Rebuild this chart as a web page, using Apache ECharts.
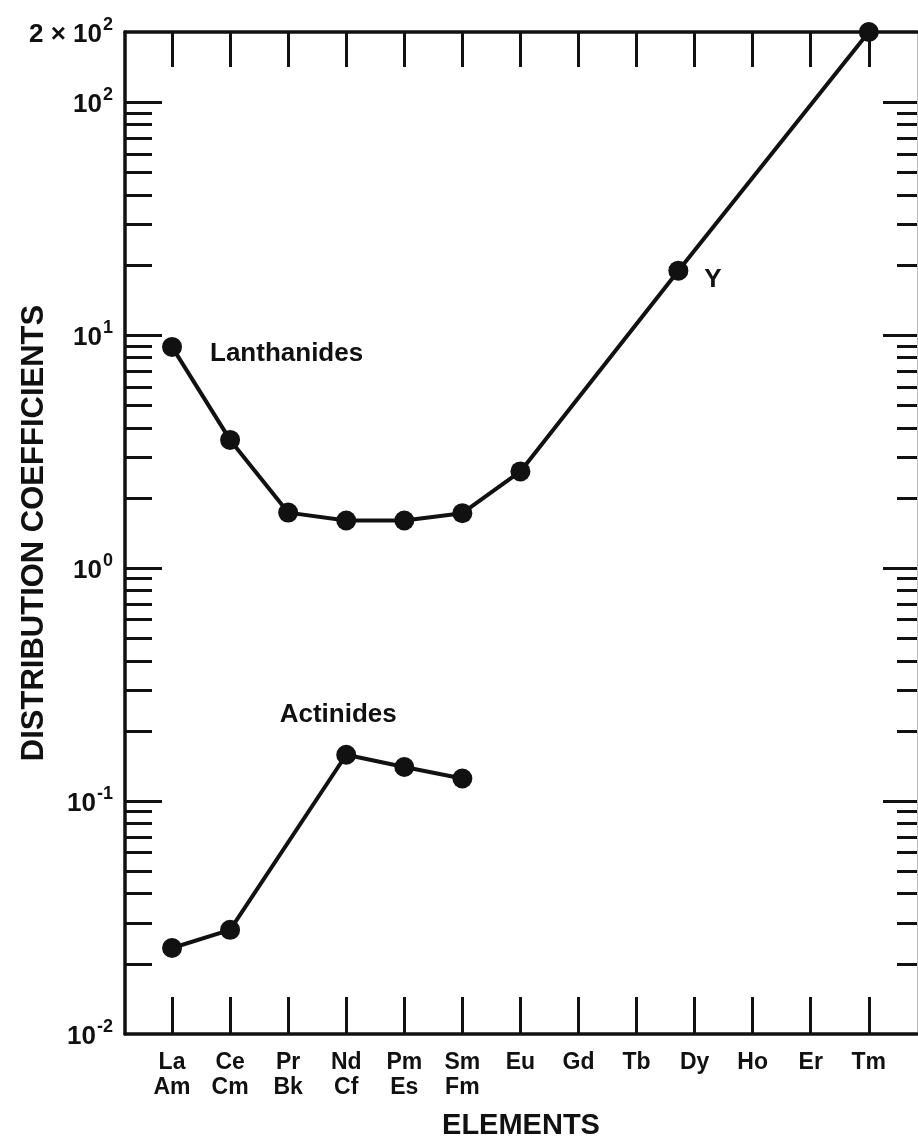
<!DOCTYPE html>
<html>
<head>
<meta charset="utf-8">
<script src="https://cdn.jsdelivr.net/npm/echarts@6/dist/echarts.min.js"></script>
<style>
html,body{margin:0;padding:0;background:#fff;}
#chart{width:918px;height:1148px;}
</style>
</head>
<body>
<div id="chart"></div>
<script>
// Categories (top row: lanthanides, bottom row: actinides)
const lanthanideNames = ['La','Ce','Pr','Nd','Pm','Sm','Eu','Gd','Tb','Dy','Ho','Er','Tm'];
const actinideNames   = ['Am','Cm','Bk','Cf','Es','Fm','','','','','','',''];

// Lanthanides series (x = category index, value = distribution coefficient)
const lanthanideX    = [0, 1, 2, 3, 4, 5, 6, 8.72, 12];
const lanthanideVals = [8.9, 3.55, 1.73, 1.6, 1.6, 1.72, 2.6, 18.9, 200];

// Actinides series
const actinideX    = [0, 1, 3, 4, 5];
const actinideVals = [0.0234, 0.028, 0.158, 0.14, 0.125];

// Y tick labels (decades) and top label
const yDecades = [-2, -1, 0, 1, 2];
const yTopValue = 200;

const FONT = "'Liberation Sans', Arial, sans-serif";
const LOGTOP = Math.log10(yTopValue);
const catIdx = lanthanideNames.map((_, i) => i);

const minorVals = [];
for (let n = -2; n <= 1; n++) {
  for (let k = 2; k <= 9; k++) minorVals.push(n + Math.log10(k));
}

const toPairs = (xs, vs) => xs.map((x, i) => [x, Math.log10(vs[i])]);

const lanData = toPairs(lanthanideX, lanthanideVals);
const actData = toPairs(actinideX, actinideVals);

// annotation labels attached to data points
lanData[0] = {value: lanData[0], label: {show: true, formatter: 'Lanthanides', position: 'right', distance: 28, offset: [0, 7]}};
lanData[7] = {value: lanData[7], label: {show: true, formatter: 'Y', position: 'right', distance: 16, offset: [0, 9]}};
actData[2] = {value: actData[2], label: {show: true, formatter: 'Actinides', position: 'top', distance: 14, offset: [-8, -3]}};

const xMin = -0.81, xMax = 12.83;
const yMin = -2, yMax = LOGTOP;

const black = '#111';

const yLabelFormatter = function (v) {
  if (Math.abs(v - LOGTOP) < 1e-6) return '{b|2 × 10}{s|2}';
  return '{b|10}{s|' + Math.round(v) + '}';
};

const option = {
  backgroundColor: '#fff',
  animation: false,
  grid: {left: 125, right: 1, top: 32, bottom: 114, containLabel: false, outerBoundsMode: 'none'},
  xAxis: [
    {
      type: 'value', position: 'bottom', min: xMin, max: xMax,
      name: 'ELEMENTS', nameLocation: 'middle', nameGap: 77, nameMoveOverlap: false,
      nameTextStyle: {fontFamily: FONT, fontWeight: 'bold', fontSize: 29, color: black},
      axisLine: {show: true, onZero: false, lineStyle: {color: black, width: 3.5}},
      axisTick: {show: true, inside: true, length: 37, customValues: catIdx, lineStyle: {color: black, width: 3}},
      axisLabel: {
        show: true, customValues: catIdx, margin: 16,
        fontFamily: FONT, fontWeight: 'bold', fontSize: 23, lineHeight: 25, color: black,
        formatter: v => {
          const i = Math.round(v);
          return actinideNames[i] ? lanthanideNames[i] + '\n' + actinideNames[i] : lanthanideNames[i] + '\n ';
        }
      },
      splitLine: {show: false}
    },
    {
      type: 'value', position: 'top', min: xMin, max: xMax,
      axisLine: {show: true, onZero: false, lineStyle: {color: black, width: 3.5}},
      axisTick: {show: true, inside: true, length: 35, customValues: catIdx, lineStyle: {color: black, width: 3}},
      axisLabel: {show: false},
      splitLine: {show: false}
    }
  ],
  yAxis: [
    {
      type: 'value', position: 'left', min: yMin, max: yMax,
      name: 'DISTRIBUTION COEFFICIENTS', nameLocation: 'middle', nameGap: 75, nameMoveOverlap: false,
      nameTextStyle: {fontFamily: FONT, fontWeight: 'bold', fontSize: 31, color: black},
      axisLine: {show: true, onZero: false, lineStyle: {color: black, width: 3.5}},
      axisTick: {show: true, inside: true, length: 37, customValues: [-1, 0, 1, 2], lineStyle: {color: black, width: 3}},
      axisLabel: {
        show: true, customValues: yDecades.concat([LOGTOP]), margin: 12,
        formatter: yLabelFormatter,
        rich: {
          b: {fontFamily: FONT, fontWeight: 'bold', fontSize: 26, color: black, lineHeight: 32, verticalAlign: 'bottom'},
          s: {fontFamily: FONT, fontWeight: 'bold', fontSize: 18, color: black, lineHeight: 32, verticalAlign: 'top', padding: [0, 0, 0, 1]}
        }
      },
      splitLine: {show: false}
    },
    {
      type: 'value', position: 'left', min: yMin, max: yMax,
      axisLine: {show: false, onZero: false},
      axisTick: {show: true, inside: true, length: 27, customValues: minorVals, lineStyle: {color: black, width: 3}},
      axisLabel: {show: false},
      splitLine: {show: false}
    },
    {
      type: 'value', position: 'right', min: yMin, max: yMax,
      axisLine: {show: true, onZero: false, lineStyle: {color: '#bbb', width: 1}},
      axisTick: {show: true, inside: true, length: 34, customValues: [-1, 0, 1, 2], lineStyle: {color: black, width: 3}},
      axisLabel: {show: false},
      splitLine: {show: false}
    },
    {
      type: 'value', position: 'right', min: yMin, max: yMax,
      axisLine: {show: false, onZero: false},
      axisTick: {show: true, inside: true, length: 20, customValues: minorVals, lineStyle: {color: black, width: 3}},
      axisLabel: {show: false},
      splitLine: {show: false}
    }
  ],
  series: [
    {
      name: 'Lanthanides', type: 'line', xAxisIndex: 0, yAxisIndex: 0,
      data: lanData, clip: false,
      symbol: 'circle', symbolSize: 20,
      itemStyle: {color: black},
      lineStyle: {color: black, width: 4},
      label: {fontFamily: FONT, fontWeight: 'bold', fontSize: 26, color: black}
    },
    {
      name: 'Actinides', type: 'line', xAxisIndex: 0, yAxisIndex: 0,
      data: actData, clip: false,
      symbol: 'circle', symbolSize: 20,
      itemStyle: {color: black},
      lineStyle: {color: black, width: 4},
      label: {fontFamily: FONT, fontWeight: 'bold', fontSize: 26, color: black}
    }
  ]
};

const chart = echarts.init(document.getElementById('chart'), null, {renderer: 'canvas'});
chart.setOption(option);
</script>
</body>
</html>
